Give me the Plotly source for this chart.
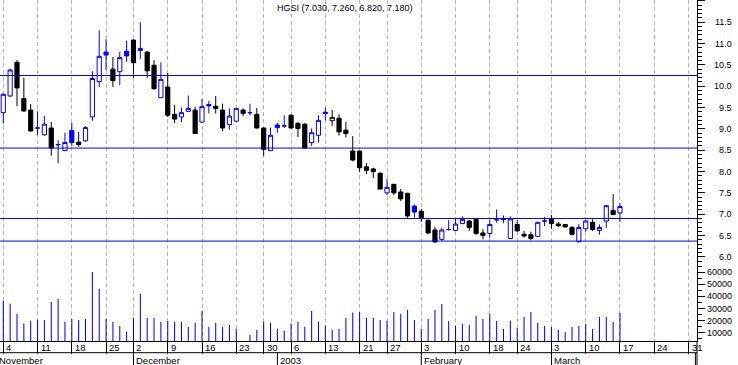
import pandas as pd
import plotly.graph_objects as go

# ---------------- data ----------------
holidays = ["2002-11-28", "2002-12-25", "2003-01-01", "2003-01-20", "2003-02-17"]

open_ = [9.38, 9.77, 10.56, 9.71, 9.44,
         9.02, 8.86, 9.02, 8.63, 8.49,
         8.96, 8.69, 8.72, 9.28, 10.11,
         10.80, 10.40, 10.34, 10.82,
         11.08, 10.88, 10.80, 10.49, 9.73,
         9.98, 9.34, 9.28, 9.41, 9.44,
         9.16, 9.57, 9.53, 9.44, 9.10,
         9.18, 9.44, 9.38, 9.34,
         9.02, 8.49,
         9.09, 9.07,
         9.32, 9.13, 9.11, 8.68, 8.85,
         9.39, 9.19, 9.25, 8.97, 8.48,
         8.48, 8.11, 8.06, 7.96,
         7.50, 7.70, 7.52, 7.49, 7.19,
         7.07, 6.86, 6.63, 6.41, 6.64,
         6.62, 6.78, 6.84, 6.88, 6.56,
         6.55, 6.87, 6.88, 6.43,
         6.76, 6.53, 6.52, 6.48, 6.84,
         6.88, 6.77, 6.76, 6.69, 6.36,
         6.66, 6.81, 6.62, 6.84, 7.09,
         7.03]
high = [9.83, 10.40, 10.61, 10.20, 9.58,
        9.41, 9.30, 9.16, 8.73, 8.91,
        9.14, 8.93, 9.06, 10.35, 11.31,
        11.10, 10.68, 10.80, 11.06,
        11.10, 11.50, 10.82, 10.61, 10.56,
        10.31, 9.56, 9.50, 9.78, 9.52,
        9.70, 9.65, 9.77, 9.59, 9.48,
        9.49, 9.48, 9.59, 9.49,
        9.03, 9.03,
        9.14, 9.32,
        9.34, 9.16, 9.13, 9.01, 9.32,
        9.50, 9.44, 9.34, 9.16, 8.83,
        8.48, 8.20, 8.09, 7.98,
        7.82, 7.71, 7.59, 7.50, 7.23,
        7.12, 6.87, 6.70, 6.68, 6.86,
        6.90, 6.95, 6.86, 6.89, 6.65,
        6.86, 7.11, 6.97, 6.95,
        6.86, 6.61, 6.59, 6.82, 6.94,
        6.98, 6.82, 6.77, 6.72, 6.77,
        6.87, 6.88, 6.76, 7.21, 7.47,
        7.26]
low = [9.13, 9.75, 9.53, 9.40, 8.94,
       8.85, 8.84, 8.37, 8.19, 8.48,
       8.60, 8.58, 8.70, 9.19, 9.98,
       10.38, 9.98, 10.03, 10.57,
       10.20, 10.64, 10.20, 9.92, 9.72,
       9.28, 9.14, 9.16, 9.40, 8.88,
       9.15, 9.36, 9.36, 8.95, 8.98,
       9.16, 9.30, 9.32, 9.01,
       8.37, 8.48,
       8.91, 9.02,
       9.01, 8.81, 8.54, 8.60, 8.68,
       9.20, 9.07, 8.84, 8.80, 8.24,
       7.99, 7.94, 7.85, 7.58,
       7.45, 7.45, 7.31, 6.90, 6.92,
       6.82, 6.54, 6.33, 6.38, 6.62,
       6.61, 6.77, 6.61, 6.52, 6.41,
       6.45, 6.80, 6.79, 6.42,
       6.59, 6.45, 6.39, 6.47, 6.72,
       6.66, 6.70, 6.70, 6.50, 6.33,
       6.59, 6.61, 6.52, 6.68, 6.99,
       6.82]
close = [9.81, 10.38, 9.96, 9.42, 8.95,
         9.02, 9.11, 8.55, 8.63, 8.68,
         8.68, 8.63, 9.03, 10.18, 10.70,
         10.73, 10.13, 10.67, 10.71,
         10.55, 10.84, 10.36, 9.94, 10.16,
         9.32, 9.23, 9.38, 9.48, 8.89,
         9.52, 9.54, 9.48, 9.02, 9.30,
         9.48, 9.36, 9.38, 9.02,
         8.52, 8.85,
         9.03, 9.07,
         9.02, 9.01, 8.55, 8.91, 9.20,
         9.36, 9.27, 8.93, 8.89, 8.27,
         8.09, 8.03, 8.00, 7.59,
         7.63, 7.50, 7.36, 6.96, 7.05,
         6.92, 6.56, 6.35, 6.63, 6.64,
         6.77, 6.88, 6.69, 6.55, 6.50,
         6.76, 6.87, 6.88, 6.89,
         6.61, 6.49, 6.43, 6.81, 6.84,
         6.78, 6.73, 6.70, 6.53, 6.69,
         6.84, 6.64, 6.69, 7.20, 6.99,
         7.18]
volume = [36500, 34000, 25700, 17500, 19700,
          20800, 20500, 35400, 37800, 19100,
          21300, 20500, 21300, 60200, 46100,
          21300, 19100, 15500, 10900,
          22100, 42300, 22100, 22100, 19100,
          19700, 19100, 19100, 14700, 18300,
          27900, 14700, 18300, 14700, 16400,
          13100, 3000, 8300, 12200,
          19100, 18300,
          13100, 11400,
          17500, 19100, 15000, 27900, 19100,
          15800, 12200, 13100, 22100, 26600,
          27100, 22100, 22100, 20500,
          19700, 27100, 25500, 28800, 20500,
          13100, 21300, 28800, 33700, 19700,
          15800, 17200, 16400, 23800, 21300,
          25500, 19700, 13100, 19700,
          13900, 22900, 27100, 18000, 15500,
          14700, 12200, 10600, 14700, 15500,
          17200, 13100, 22900, 22900, 18800,
          26300]

level_lines = [10.25, 8.55, 6.90, 6.37]

week_dates = ["2002-11-04", "2002-11-11", "2002-11-18", "2002-11-25", "2002-12-02",
              "2002-12-09", "2002-12-16", "2002-12-23", "2002-12-30", "2003-01-06",
              "2003-01-13", "2003-01-21", "2003-01-27", "2003-02-03", "2003-02-10",
              "2003-02-18", "2003-02-24", "2003-03-03", "2003-03-10", "2003-03-17",
              "2003-03-24", "2003-03-31"]
month_dates = ["2002-12-02", "2003-01-02", "2003-02-03", "2003-03-03", "2003-04-01"]
month_labels = ["December", "2003", "February", "March", ""]
first_month_label = "November"

price_ticks = [6.0, 6.5, 7.0, 7.5, 8.0, 8.5, 9.0, 9.5, 10.0, 10.5, 11.0, 11.5]
volume_ticks = [10000, 20000, 30000, 40000, 50000, 60000]

title_text = "HGSI (7.030, 7.260, 6.820, 7.180)"

# ---------------- trading-day axis ----------------
calendar = [d.strftime("%Y-%m-%d") for d in pd.bdate_range("2002-11-04", "2003-04-01")
            if d.strftime("%Y-%m-%d") not in holidays]
pos = {d: i for i, d in enumerate(calendar)}
n = len(close)
xs = list(range(n))
week_idx = [pos[d] for d in week_dates]
month_idx = [pos[d] for d in month_dates]

BLUE = "#0000ff"
BLACK = "#000000"
FONT = "Liberation Sans, Arial, sans-serif"

W, H = 738, 365
ML, MR, MT, MB = 0, 41, 0, 24
PH = H - MT - MB          # plot height (px)
PW = W - ML - MR
split = 1 - 262 / PH      # price / volume boundary
XR = [-0.48, 101.24]

def py(px):               # pixel (from top of plot) -> paper y
    return 1 - px / PH

# colour by change vs previous close, fill by close vs open
is_up = [close[i] >= (close[i - 1] if i > 0 else open_[i]) for i in range(n)]

fig = go.Figure()
for flag, col in [(True, BLUE), (False, BLACK)]:
    idx = [i for i in range(n) if is_up[i] == flag]
    fig.add_trace(go.Candlestick(
        x=[xs[i] for i in idx],
        open=[open_[i] for i in idx], high=[high[i] for i in idx],
        low=[low[i] for i in idx], close=[close[i] for i in idx],
        increasing=dict(line=dict(color=col, width=1), fillcolor="#ffffff"),
        decreasing=dict(line=dict(color=col, width=1), fillcolor=col),
        whiskerwidth=0, showlegend=False, hoverinfo="skip",
        xaxis="x", yaxis="y"))

fig.add_trace(go.Bar(x=xs, y=volume, width=0.15,
                     marker=dict(color=BLUE, line=dict(width=0)),
                     showlegend=False, hoverinfo="skip", xaxis="x2", yaxis="y2"))

grid = dict(showgrid=True, gridcolor="#b4b4b4", griddash="4px,3px", gridwidth=1,
            tickvals=week_idx, zeroline=False, range=XR, fixedrange=True)

fig.update_layout(
    width=W, height=H,
    margin=dict(l=ML, r=MR, t=MT, b=MB, pad=0),
    paper_bgcolor="#ffffff", plot_bgcolor="#ffffff",
    font=dict(family=FONT, size=9, color=BLACK),
    boxgap=0.22, boxgroupgap=0.22,
    xaxis=dict(domain=[0, 1], anchor="y", showticklabels=False, ticks="",
               rangeslider=dict(visible=False), showline=False, **grid),
    xaxis2=dict(domain=[0, 1], anchor="y2", matches="x", showticklabels=False,
                ticks="outside", ticklen=12, tickcolor=BLACK, tickwidth=1,
                showline=True, linecolor=BLACK, linewidth=1, **grid),
    yaxis=dict(domain=[split, 1], anchor="x", side="right", range=[5.88, 12.02],
               showline=True, linecolor=BLACK, linewidth=1, fixedrange=True,
               ticks="outside", ticklen=7, tickcolor=BLACK, dtick=0.5, tick0=0,
               showticklabels=False, showgrid=False, zeroline=False,
               minor=dict(dtick=0.1, ticks="outside", ticklen=4, tickcolor=BLACK, showgrid=False)),
    yaxis2=dict(domain=[0, split], anchor="x2", side="right", range=[3100, 68500],
                showline=True, linecolor=BLACK, linewidth=1, fixedrange=True,
                ticks="outside", ticklen=7, tickcolor=BLACK, dtick=10000, tick0=0,
                showticklabels=False, showgrid=False, zeroline=False,
                minor=dict(dtick=5000, ticks="outside", ticklen=4, tickcolor=BLACK, showgrid=False)),
)

shapes = []
for lv in level_lines:
    shapes.append(dict(type="line", xref="x domain", x0=0, x1=1, yref="y", y0=lv, y1=lv,
                       line=dict(color=BLUE, width=1), layer="above"))
# second rule under the day numbers
shapes.append(dict(type="line", xref="paper", x0=0, x1=1, yref="paper",
                   y0=py(352.7), y1=py(352.7), line=dict(color=BLACK, width=1)))
# right border continuing through the date rows
shapes.append(dict(type="line", xref="paper", x0=1, x1=1, yref="paper",
                   y0=py(341), y1=py(365), line=dict(color=BLACK, width=1)))
for mi in month_idx:
    shapes.append(dict(type="line", xref="x2", x0=mi, x1=mi, yref="paper",
                       y0=py(352.7), y1=py(365), line=dict(color=BLACK, width=1)))

ann = []
ann.append(dict(text=title_text, xref="paper", yref="paper", x=345 / PW, y=py(8.5),
                xanchor="center", yanchor="middle", showarrow=False,
                font=dict(size=9, family=FONT, color=BLACK)))
for v in price_ticks:
    ann.append(dict(text=f"{v:.1f}", xref="paper", yref="y", x=734 / PW, y=v,
                    xanchor="right", yanchor="middle", showarrow=False,
                    font=dict(size=9, family=FONT, color=BLACK)))
for v in volume_ticks:
    ann.append(dict(text=str(v), xref="paper", yref="y2", x=734 / PW, y=v,
                    xanchor="right", yanchor="middle", showarrow=False,
                    font=dict(size=9, family=FONT, color=BLACK)))
for d, wi in zip(week_dates, week_idx):
    ann.append(dict(text=str(int(d[-2:])), xref="x2", yref="paper", x=wi, y=py(347),
                    xanchor="left", yanchor="middle", xshift=1, showarrow=False,
                    font=dict(size=9.5, family=FONT, color=BLACK)))
ann.append(dict(text=first_month_label, xref="paper", yref="paper", x=0, y=py(360.3),
                xanchor="left", yanchor="middle", xshift=-3, showarrow=False,
                font=dict(size=9.5, family=FONT, color=BLACK)))
for lab, mi in zip(month_labels, month_idx):
    if lab:
        ann.append(dict(text=lab, xref="x2", yref="paper", x=mi, y=py(360.3),
                        xanchor="left", yanchor="middle", xshift=1, showarrow=False,
                        font=dict(size=9.5, family=FONT, color=BLACK)))

fig.update_layout(shapes=shapes, annotations=ann)
fig.write_html("out.html", config={"displayModeBar": False, "staticPlot": True},
               post_script="document.body.style.margin='0px';document.body.style.overflow='hidden';")
